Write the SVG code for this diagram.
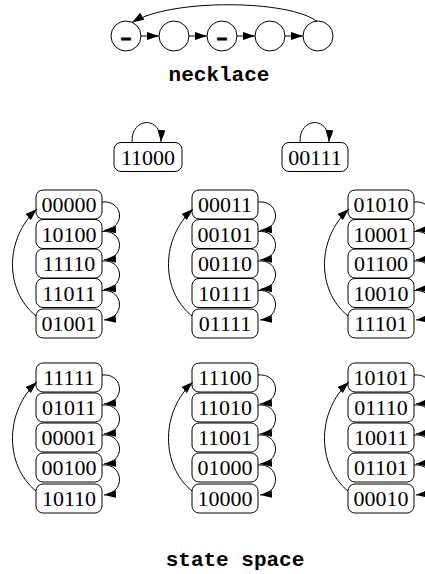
<svg xmlns="http://www.w3.org/2000/svg" width="425" height="574" viewBox="0 0 425 574">
  <style>
    .bg { fill: #ffffff; }
    .bead { fill: none; stroke: #000; stroke-width: 1; }
    .state rect { fill: none; stroke: #000; stroke-width: 1; }
    .state text { font-family: "Liberation Serif", "Times New Roman", serif; font-size: 22px; fill: #000; text-anchor: middle; }
    .edge { fill: none; stroke: #000; stroke-width: 1; marker-end: url(#head); }
    .title { font-family: "Liberation Mono", "Courier New", monospace; font-weight: bold; font-size: 21px; fill: #000; text-anchor: middle; }
    .mark { font-family: "Liberation Sans", Arial, sans-serif; font-weight: bold; font-size: 18px; fill: #000; stroke: #000; stroke-width: 1.1; text-anchor: middle; }
  </style>
  <defs>
    <marker id="head" markerUnits="userSpaceOnUse" markerWidth="13" markerHeight="9" refX="12" refY="4" orient="auto">
      <path d="M0,0 L12,4 L0,8 z" fill="#000"/>
    </marker>
  </defs>
  <rect class="bg" width="425" height="574"/>

  <!-- necklace: five beads in a ring -->
  <g id="bead1"><circle class="bead" cx="126" cy="36" r="15"/><text class="mark" x="126" y="44">–</text></g>
  <g id="bead2"><circle class="bead" cx="174" cy="36" r="15"/></g>
  <g id="bead3"><circle class="bead" cx="222" cy="36" r="15"/><text class="mark" x="222" y="44">–</text></g>
  <g id="bead4"><circle class="bead" cx="270" cy="36" r="15"/></g>
  <g id="bead5"><circle class="bead" cx="318" cy="36" r="15"/></g>
  <g id="necklace-edges">
    <path class="edge" d="M141,36 L159,36"/>
    <path class="edge" d="M189,36 L207,36"/>
    <path class="edge" d="M237,36 L255,36"/>
    <path class="edge" d="M285,36 L303,36"/>
    <path class="edge" d="M317,21.5 C290,0 172,-2 132,22.5"/>
  </g>
  <text class="title" x="219" y="81">necklace</text>

  <!-- fixed points -->
  <g id="s11000" class="state"><rect x="114" y="142.5" width="68" height="29" rx="7"/><text x="148" y="164.5">11000</text></g>
  <g id="s00111" class="state"><rect x="282" y="142.5" width="66" height="29" rx="7"/><text x="315" y="164.5">00111</text></g>

  <!-- top row of cycles -->
  <g id="s00000" class="state"><rect x="36" y="190" width="66" height="29" rx="7"/><text x="69" y="212">00000</text></g>
  <g id="s10100" class="state"><rect x="36" y="219.5" width="66" height="29" rx="7"/><text x="69" y="241.5">10100</text></g>
  <g id="s11110" class="state"><rect x="36" y="249" width="66" height="29" rx="7"/><text x="69" y="271">11110</text></g>
  <g id="s11011" class="state"><rect x="36" y="278.5" width="66" height="29" rx="7"/><text x="69" y="300.5">11011</text></g>
  <g id="s01001" class="state"><rect x="36" y="309" width="66" height="29" rx="7"/><text x="69" y="331">01001</text></g>

  <g id="s00011" class="state"><rect x="192" y="190" width="66" height="29" rx="7"/><text x="225" y="212">00011</text></g>
  <g id="s00101" class="state"><rect x="192" y="219.5" width="66" height="29" rx="7"/><text x="225" y="241.5">00101</text></g>
  <g id="s00110" class="state"><rect x="192" y="249" width="66" height="29" rx="7"/><text x="225" y="271">00110</text></g>
  <g id="s10111" class="state"><rect x="192" y="278.5" width="66" height="29" rx="7"/><text x="225" y="300.5">10111</text></g>
  <g id="s01111" class="state"><rect x="192" y="309" width="66" height="29" rx="7"/><text x="225" y="331">01111</text></g>

  <g id="s01010" class="state"><rect x="348" y="190" width="66" height="29" rx="7"/><text x="381" y="212">01010</text></g>
  <g id="s10001" class="state"><rect x="348" y="219.5" width="66" height="29" rx="7"/><text x="381" y="241.5">10001</text></g>
  <g id="s01100" class="state"><rect x="348" y="249" width="66" height="29" rx="7"/><text x="381" y="271">01100</text></g>
  <g id="s10010" class="state"><rect x="348" y="278.5" width="66" height="29" rx="7"/><text x="381" y="300.5">10010</text></g>
  <g id="s11101" class="state"><rect x="348" y="309" width="66" height="29" rx="7"/><text x="381" y="331">11101</text></g>

  <!-- bottom row of cycles -->
  <g id="s11111" class="state"><rect x="36" y="363" width="66" height="29" rx="7"/><text x="69" y="385">11111</text></g>
  <g id="s01011" class="state"><rect x="36" y="393" width="66" height="29" rx="7"/><text x="69" y="415">01011</text></g>
  <g id="s00001" class="state"><rect x="36" y="423" width="66" height="29" rx="7"/><text x="69" y="445">00001</text></g>
  <g id="s00100" class="state"><rect x="36" y="453" width="66" height="29" rx="7"/><text x="69" y="475">00100</text></g>
  <g id="s10110" class="state"><rect x="36" y="484" width="66" height="29" rx="7"/><text x="69" y="506">10110</text></g>

  <g id="s11100" class="state"><rect x="192" y="363" width="66" height="29" rx="7"/><text x="225" y="385">11100</text></g>
  <g id="s11010" class="state"><rect x="192" y="393" width="66" height="29" rx="7"/><text x="225" y="415">11010</text></g>
  <g id="s11001" class="state"><rect x="192" y="423" width="66" height="29" rx="7"/><text x="225" y="445">11001</text></g>
  <g id="s01000" class="state"><rect x="192" y="453" width="66" height="29" rx="7"/><text x="225" y="475">01000</text></g>
  <g id="s10000" class="state"><rect x="192" y="484" width="66" height="29" rx="7"/><text x="225" y="506">10000</text></g>

  <g id="s10101" class="state"><rect x="348" y="363" width="66" height="29" rx="7"/><text x="381" y="385">10101</text></g>
  <g id="s01110" class="state"><rect x="348" y="393" width="66" height="29" rx="7"/><text x="381" y="415">01110</text></g>
  <g id="s10011" class="state"><rect x="348" y="423" width="66" height="29" rx="7"/><text x="381" y="445">10011</text></g>
  <g id="s01101" class="state"><rect x="348" y="453" width="66" height="29" rx="7"/><text x="381" y="475">01101</text></g>
  <g id="s00010" class="state"><rect x="348" y="484" width="66" height="29" rx="7"/><text x="381" y="506">00010</text></g>

  <g id="edges">
    <!-- self loops -->
    <path class="edge" d="M132,142.5 C131,116 162,116 161,142"/>
    <path class="edge" d="M300,142.5 C299,116 330,116 329,142"/>

    <!-- left top cycle -->
    <path class="edge" d="M102,202 C124,200 126,228.5 104,230.5"/>
    <path class="edge" d="M102,231.5 C124,229.5 126,258 104,260"/>
    <path class="edge" d="M102,261 C124,259 126,287.5 104,289.5"/>
    <path class="edge" d="M102,290.5 C124,288.5 126,318 104,320"/>
    <path class="edge" d="M36,316 C4,290 5,238 37,209"/>
    <!-- middle top cycle -->
    <path class="edge" d="M258,202 C280,200 282,228.5 260,230.5"/>
    <path class="edge" d="M258,231.5 C280,229.5 282,258 260,260"/>
    <path class="edge" d="M258,261 C280,259 282,287.5 260,289.5"/>
    <path class="edge" d="M258,290.5 C280,288.5 282,318 260,320"/>
    <path class="edge" d="M192,316 C160,290 161,238 193,209"/>
    <!-- right top cycle -->
    <path class="edge" d="M414,202 C436,200 438,228.5 416,230.5"/>
    <path class="edge" d="M414,231.5 C436,229.5 438,258 416,260"/>
    <path class="edge" d="M414,261 C436,259 438,287.5 416,289.5"/>
    <path class="edge" d="M414,290.5 C436,288.5 438,318 416,320"/>
    <path class="edge" d="M348,316 C316,290 317,238 349,209"/>

    <!-- left bottom cycle -->
    <path class="edge" d="M102,375 C124,373 126,402 104,404"/>
    <path class="edge" d="M102,405 C124,403 126,432 104,434"/>
    <path class="edge" d="M102,435 C124,433 126,462 104,464"/>
    <path class="edge" d="M102,465 C124,463 126,493 104,495"/>
    <path class="edge" d="M36,491 C4,465 5,411 37,382"/>
    <!-- middle bottom cycle -->
    <path class="edge" d="M258,375 C280,373 282,402 260,404"/>
    <path class="edge" d="M258,405 C280,403 282,432 260,434"/>
    <path class="edge" d="M258,435 C280,433 282,462 260,464"/>
    <path class="edge" d="M258,465 C280,463 282,493 260,495"/>
    <path class="edge" d="M192,491 C160,465 161,411 193,382"/>
    <!-- right bottom cycle -->
    <path class="edge" d="M414,375 C436,373 438,402 416,404"/>
    <path class="edge" d="M414,405 C436,403 438,432 416,434"/>
    <path class="edge" d="M414,435 C436,433 438,462 416,464"/>
    <path class="edge" d="M414,465 C436,463 438,493 416,495"/>
    <path class="edge" d="M348,491 C316,465 317,411 349,382"/>
  </g>

  <text class="title" x="235" y="566">state space</text>
</svg>
